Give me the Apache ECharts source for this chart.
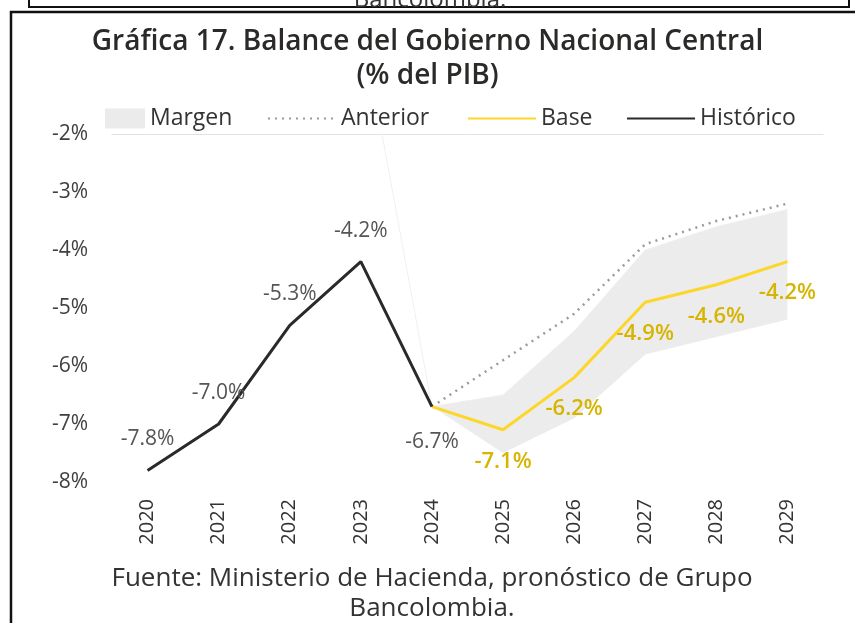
<!DOCTYPE html>
<html>
<head>
<meta charset="utf-8">
<script src="https://cdn.jsdelivr.net/npm/echarts@6/dist/echarts.min.js"></script>
<style>
  html, body { margin: 0; padding: 0; background: #fff; }
  #chart { width: 855px; height: 623px; }
</style>
</head>
<body>
<div id="chart"></div>
<script>
// datos (% del PIB)
const years = ['2020', '2021', '2022', '2023', '2024', '2025', '2026', '2027', '2028', '2029']
const historico = [-7.8, -7.0, -5.3, -4.2, -6.7, null, null, null, null, null]
const base = [null, null, null, null, -6.7, -7.1, -6.2, -4.9, -4.6, -4.2]
const anterior = [null, null, null, null, -6.7, -5.9, -5.1, -3.9, -3.5, -3.2]
const margenInf = [null, null, null, 0, -6.7, -7.5, -6.9, -5.8, -5.5, -5.2]
const margenSup = [null, null, null, 0, -6.7, -6.5, -5.4, -4.0, -3.6, -3.3]
const yTicks = [-8, -7, -6, -5, -4, -3, -2]

const banda = margenSup.map((v, i) => (v === null ? null : +(v - margenInf[i]).toFixed(2)))

const chart = echarts.init(document.getElementById('chart'))
const font = 'Open Sans'
const legendText = { fontSize: 23, color: '#333', fontFamily: font }

const option = {
  animation: false,
  textStyle: { fontFamily: font },
  title: {
    text: 'Gráfica 17. Balance del Gobierno Nacional Central\n(% del PIB)',
    left: 'center',
    top: 20,
    textStyle: { fontSize: 28, fontWeight: 600, color: '#2b2a29', lineHeight: 34, fontFamily: font }
  },
  legend: [
    { top: 102, left: 100, itemWidth: 40, itemHeight: 20, data: [{ name: 'Margen', icon: 'rect' }], textStyle: legendText },
    { top: 102, left: 262, itemWidth: 68, itemHeight: 14, data: ['Anterior'], textStyle: legendText },
    { top: 102, left: 462, itemWidth: 68, itemHeight: 14, data: ['Base'], textStyle: legendText },
    { top: 102, left: 621, itemWidth: 68, itemHeight: 14, data: ['Histórico'], textStyle: legendText }
  ],
  grid: { left: 112, right: 32, top: 134, bottom: 141 },
  xAxis: [
    {
      type: 'category',
      data: years,
      axisLine: { show: false },
      axisTick: { show: false },
      axisLabel: { rotate: 90, fontSize: 20, color: '#333', margin: 17, fontFamily: font }
    },
    {
      type: 'category',
      data: years,
      position: 'top',
      axisLine: { show: true, lineStyle: { color: '#e3e3e3', width: 1 } },
      axisTick: { show: false },
      axisLabel: { show: false }
    }
  ],
  yAxis: {
    type: 'value',
    min: -8,
    max: -2,
    interval: 1,
    splitLine: { show: false },
    axisLine: { show: false },
    axisLabel: {
      fontSize: 21,
      color: '#404040',
      margin: 24,
      fontFamily: font,
      formatter: v => (yTicks.includes(v) ? v + '%' : '')
    }
  },
  series: [
    {
      name: 'margenInf',
      type: 'line',
      stack: 'margen',
      stackStrategy: 'all',
      data: margenInf,
      symbol: 'none',
      lineStyle: { width: 0, opacity: 0 },
      silent: true,
      z: 1
    },
    {
      name: 'Margen',
      type: 'line',
      stack: 'margen',
      stackStrategy: 'all',
      data: banda,
      symbol: 'none',
      color: '#ebebeb',
      itemStyle: { color: '#ebebeb' },
      lineStyle: { width: 1, color: '#f0f0f0' },
      areaStyle: { color: '#ececec', opacity: 1 },
      z: 1
    },
    {
      name: 'Anterior',
      type: 'line',
      data: anterior,
      symbol: 'none',
      color: '#9a9a9a',
      itemStyle: { color: 'rgba(0,0,0,0)' },
      lineStyle: { color: '#9a9a9a', width: 2.5, type: [2, 5] },
      z: 2
    },
    {
      name: 'Base',
      type: 'line',
      data: base,
      symbol: 'circle',
      symbolSize: 1,
      showSymbol: true,
      color: '#fdd62a',
      itemStyle: { color: 'rgba(0,0,0,0)' },
      lineStyle: { color: '#fdd62a', width: 3 },
      label: {
        show: true,
        position: 'bottom',
        distance: 20,
        fontSize: 22,
        fontWeight: 600,
        color: '#d6b400',
        fontFamily: font,
        formatter: p => (p.dataIndex === 4 ? '' : p.value.toFixed(1) + '%')
      },
      z: 3
    },
    {
      name: 'Histórico',
      type: 'line',
      data: historico,
      symbol: 'circle',
      symbolSize: 1,
      showSymbol: true,
      color: '#2b2a29',
      itemStyle: { color: 'rgba(0,0,0,0)' },
      lineStyle: { color: '#2b2a29', width: 3 },
      label: {
        show: true,
        position: 'top',
        distance: 20,
        fontSize: 21,
        color: '#555',
        fontFamily: font,
        formatter: p => p.value.toFixed(1) + '%'
      },
      labelLayout: p => (p.dataIndex === 4 ? { dy: 66 } : {}),
      z: 4
    }
  ],
  graphic: [
    {
      type: 'rect',
      shape: { x: 29, y: -10, width: 820, height: 17 },
      style: { fill: 'none', stroke: '#111', lineWidth: 2 }
    },
    {
      type: 'text',
      x: 430,
      y: -12,
      style: { text: 'Bancolombia.', fontSize: 24, fill: '#333', fontFamily: font, textAlign: 'center' }
    },
    {
      type: 'rect',
      shape: { x: 11, y: 12, width: 860, height: 640 },
      style: { fill: 'none', stroke: '#111', lineWidth: 2.5 }
    },
    {
      type: 'text',
      x: 432,
      y: 564,
      style: {
        text: 'Fuente: Ministerio de Hacienda, pronóstico de Grupo\nBancolombia.',
        fontSize: 26,
        lineHeight: 30,
        fill: '#333',
        fontFamily: font,
        textAlign: 'center'
      }
    }
  ]
}

chart.setOption(option)
</script>
</body>
</html>
